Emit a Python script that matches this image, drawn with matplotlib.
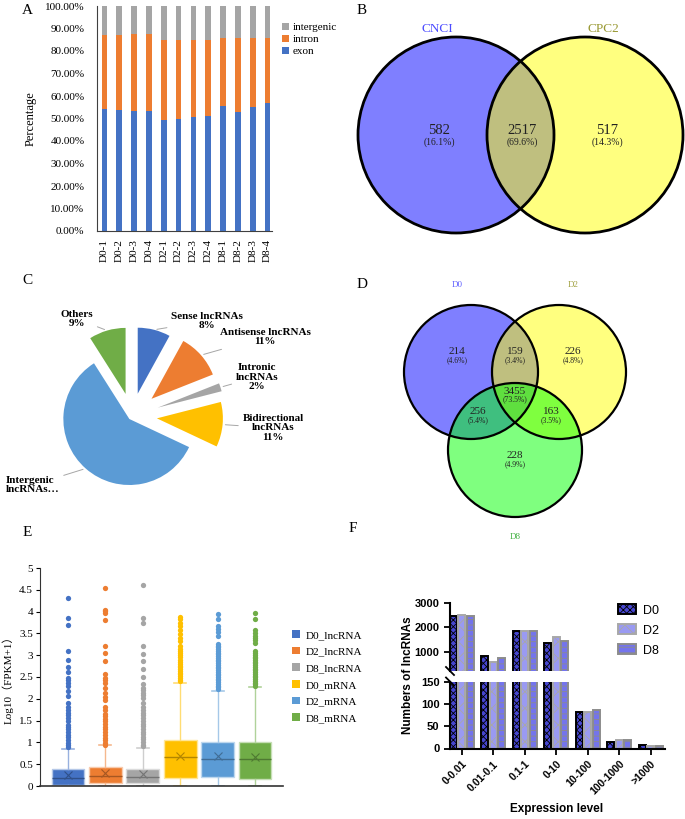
import numpy as np
import matplotlib
matplotlib.use('Agg')
import matplotlib.pyplot as plt
from matplotlib.patches import Circle, Patch
from matplotlib.colors import to_rgb

W, H = 685, 819

# ---------- data ----------
# A: genomic origin of reads per sample (%)
samples = ['D0-1', 'D0-2', 'D0-3', 'D0-4', 'D2-1', 'D2-2', 'D2-3', 'D2-4',
           'D8-1', 'D8-2', 'D8-3', 'D8-4']
exon = [54.1, 53.6, 53.2, 53.5, 49.2, 49.8, 50.5, 51.3, 55.4, 52.7, 55.0, 56.9]
intron = [32.9, 33.4, 34.2, 34.2, 35.5, 34.9, 34.2, 33.4, 30.2, 32.9, 30.8, 28.9]
intergenic = [13.0, 13.0, 12.6, 12.3, 15.3, 15.3, 15.3, 15.3, 14.4, 14.4, 14.2, 14.2]

# B: CNCI vs CPC2
b_sets = ['CNCI', 'CPC2']
b_counts = [582, 2517, 517]
b_pcts = [16.1, 69.6, 14.3]

# C: lncRNA classes
c_names = ['Sense lncRNAs', 'Antisense lncRNAs', 'Intronic\nlncRNAs',
           'Bidirectional\nlncRNAs', 'Intergenic\nlncRNAs', 'Others']
c_pcts = [8, 11, 2, 11, 59, 9]

# D: D0 / D2 / D8 venn (D0, D0&D2, D2, all, D0&D8, D2&D8, D8)
d_sets = ['D0', 'D2', 'D8']
d_counts = [214, 159, 226, 3455, 256, 163, 228]
d_pcts = [4.6, 3.4, 4.8, 73.5, 5.4, 3.5, 4.9]

# E: log10(FPKM+1) box stats
e_groups = ['D0_lncRNA', 'D2_lncRNA', 'D8_lncRNA', 'D0_mRNA', 'D2_mRNA', 'D8_mRNA']
e_q1 = [0.03, 0.08, 0.06, 0.175, 0.21, 0.17]
e_med = [0.175, 0.23, 0.20, 0.67, 0.63, 0.63]
e_q3 = [0.38, 0.43, 0.38, 1.05, 1.01, 1.01]
e_mean = [0.25, 0.30, 0.27, 0.69, 0.69, 0.67]
e_whislo = [0, 0, 0, 0, 0, 0]
e_whishi = [0.86, 0.93, 0.88, 2.36, 2.18, 2.26]
d0_lnc_fliers = [4.31, 3.85, 3.70, 3.10, 2.88, 2.74, 2.61, 2.48, 2.42, 2.36, 2.29, 2.18,
                 2.07, 1.90, 1.81, 1.74, 1.68, 1.62, 1.55, 1.49, 1.40, 1.36, 1.30, 1.23,
                 1.17, 1.13, 1.05, 0.99, 0.93, 0.89]
d2_lnc_fliers = [4.53, 4.04, 4.01, 3.96, 3.80, 3.22, 3.06, 2.87, 2.58, 2.48, 2.42, 2.36,
                 2.24, 2.14, 2.04, 1.97, 1.81, 1.74, 1.66, 1.60, 1.54, 1.48, 1.42, 1.36,
                 1.30, 1.23, 1.17, 1.11, 1.05, 0.99, 0.95]
d8_lnc_fliers = [4.61, 3.85, 3.74, 3.22, 3.03, 2.87, 2.68, 2.50, 2.33, 2.24, 2.20, 2.13,
                 2.08, 2.02, 1.91, 1.81, 1.74, 1.68, 1.62, 1.55, 1.49, 1.43, 1.37, 1.31,
                 1.25, 1.19, 1.13, 1.07, 1.01, 0.95, 0.91]
d0_mrna_fliers = [3.88, 3.82, 3.74, 3.66, 3.58, 3.48, 3.40, 3.33, 3.22, 3.15, 3.10, 3.05,
                  3.00, 2.95, 2.90, 2.85, 2.80, 2.76, 2.72, 2.68, 2.64, 2.60, 2.56, 2.52,
                  2.48, 2.44, 2.40]
d2_mrna_fliers = [3.95, 3.83, 3.66, 3.60, 3.53, 3.45, 3.26, 3.22, 3.18, 3.14, 3.10, 3.06,
                  3.02, 2.98, 2.94, 2.90, 2.86, 2.82, 2.78, 2.74, 2.70, 2.66, 2.62, 2.58,
                  2.54, 2.50, 2.46, 2.42, 2.38, 2.34, 2.30, 2.26, 2.22]
d8_mrna_fliers = [3.96, 3.83, 3.57, 3.51, 3.45, 3.40, 3.34, 3.28, 3.09, 3.05, 3.01, 2.97,
                  2.93, 2.89, 2.85, 2.81, 2.77, 2.73, 2.69, 2.65, 2.61, 2.57, 2.53, 2.49,
                  2.45, 2.41, 2.37, 2.33, 2.30]
e_fliers = [d0_lnc_fliers, d2_lnc_fliers, d8_lnc_fliers,
            d0_mrna_fliers, d2_mrna_fliers, d8_mrna_fliers]

# F: number of lncRNAs per expression level
f_levels = ['0-0.01', '0.01-0.1', '0.1-1', '0-10', '10-100', '100-1000', '>1000']
f_groups = ['D0', 'D2', 'D8']
f_d0 = [2476, 837, 1860, 1367, 82, 15, 7]
f_d2 = [2517, 565, 1850, 1585, 82, 18, 6]
f_d8 = [2449, 755, 1850, 1449, 86, 18, 6]

# ---------- styling ----------
serif = ['Liberation Serif', 'Noto Sans CJK SC']
sans = ['Liberation Sans', 'DejaVu Sans']
plt.rcParams['font.family'] = serif
plt.rcParams['hatch.linewidth'] = 0.6

office = ['#4472C4', '#ED7D31', '#A5A5A5', '#FFC000', '#5B9BD5', '#70AD47']


def box(x0, y0, x1, y1):
    # pixel rectangle (y down) -> figure fraction
    return [x0 / W, 1 - y1 / H, (x1 - x0) / W, (y1 - y0) / H]


def mix(c, other, t):
    a, b = np.array(to_rgb(c)), np.array(to_rgb(other))
    return tuple(a * (1 - t) + b * t)


fig = plt.figure(figsize=(W / 100, H / 100), dpi=100)

# overlay in pixel coordinates for the venn diagrams
ov = fig.add_axes([0, 0, 1, 1])
ov.set_xlim(0, W)
ov.set_ylim(H, 0)
ov.axis('off')

# panel letters
for letter, (lx, ly) in zip('ABCDEF', [(27, 10), (362, 10), (27, 280), (362, 285),
                                        (27, 532), (353, 528)]):
    fig.text(lx / W, 1 - ly / H, letter, fontsize=11, ha='center', va='center')

# ---------- A ----------
axa = fig.add_axes(box(97, 6, 272, 231))
xa = np.arange(len(samples))
axa.bar(xa, exon, width=0.38, color=office[0], label='exon')
axa.bar(xa, intron, width=0.38, bottom=exon, color=office[1], label='intron')
axa.bar(xa, intergenic, width=0.38, bottom=np.add(exon, intron), color=office[2],
        label='intergenic')
axa.set_xlim(-0.5, 11.3)
axa.set_ylim(0, 100)
yt = np.arange(0, 101, 10)
axa.set_yticks(yt, [f'{v:.2f}%' for v in yt])
axa.set_xticks(xa, samples, rotation=90)
axa.tick_params(length=0, labelsize=8, pad=6)
axa.tick_params(axis='y', pad=9)
for s in ['top', 'right']:
    axa.spines[s].set_visible(False)
for s in ['left', 'bottom']:
    axa.spines[s].set_color('#404040')
axa.set_ylabel('Percentage', fontsize=9, labelpad=6)
h, l = axa.get_legend_handles_labels()
axa.legend(h[::-1], l[::-1], loc='upper left', bbox_to_anchor=(282 / W, 1 - 23 / H),
           bbox_transform=fig.transFigure, frameon=False, fontsize=8,
           handlelength=0.6, handleheight=0.6, handletextpad=0.4, labelspacing=0.22,
           borderpad=0, borderaxespad=0)

# ---------- B ----------
venn_cols = ['#0000FF', '#FFFF00', '#00FF00']
b_centers = [(456, 135), (585, 135)]
rb = 98
for (x0, y0), c in zip(b_centers, venn_cols):
    ov.add_patch(Circle((x0, y0), rb, facecolor=c, alpha=0.5, edgecolor='none'))
for (x0, y0) in b_centers:
    ov.add_patch(Circle((x0, y0), rb, fill=False, edgecolor='black', lw=2))
b_label_pos = [(439, 136), (522, 136), (607, 136)]
for (tx, ty), n, p in zip(b_label_pos, b_counts, b_pcts):
    ov.text(tx, ty - 5, str(n), ha='center', va='center', fontsize=10.5, color='#222222')
    ov.text(tx, ty + 6, f'({p:.1f}%)', ha='center', va='center', fontsize=7, color='#222222')
for (x0, y0), name, col in zip(b_centers, b_sets, ['#4B4BFF', '#999933']):
    ov.text(x0 - 19 if name == 'CNCI' else x0 + 18, 29, name, ha='center', va='center',
            fontsize=9.5, color=col)

# ---------- C ----------
axc = fig.add_axes(box(0, 270, 340, 500))
cx, cy, rc = 132, H - 416, 66
c_explode = [23, 26, 27, 25, 4, 23]
wedges, _ = axc.pie(c_pcts, explode=c_explode, colors=office, startangle=90,
                    counterclock=False, center=(cx, cy), radius=rc,
                    wedgeprops=dict(linewidth=0))
axc.set_aspect('auto')
axc.set_xlim(0, 340)
axc.set_ylim(H - 500, H - 270)
c_text_pos = [(207, 321), (265, 337), (257, 377), (273, 428), (6, 485), (77, 319)]
for i, (w, name, pct, (tx, ty)) in enumerate(zip(wedges, c_names, c_pcts, c_text_pos)):
    th = np.deg2rad((w.theta1 + w.theta2) / 2)
    px = w.center[0] + rc * np.cos(th)
    py = w.center[1] + rc * np.sin(th)
    label = name + '…' if name.startswith('Intergenic') else f'{name}\n{pct}%'
    axc.annotate(label, xy=(px, py), xytext=(tx, H - ty),
                 ha='left' if name.startswith('Intergenic') else 'center', va='center',
                 fontsize=8, fontweight='bold', linespacing=1.05,
                 arrowprops=dict(arrowstyle='-', color='#A6A6A6', lw=0.7,
                                 shrinkA=1, shrinkB=2))

# ---------- D ----------
d_centers = [(471, 372), (559, 372), (515, 450)]
rd = 67
for (x0, y0), c in zip(d_centers, venn_cols):
    ov.add_patch(Circle((x0, y0), rd, facecolor=c, alpha=0.5, edgecolor='none'))
for (x0, y0) in d_centers:
    ov.add_patch(Circle((x0, y0), rd, fill=False, edgecolor='black', lw=1.6))
d_label_pos = [(457, 355), (515, 355), (573, 355), (515, 394), (478, 415), (551, 415),
               (515, 459)]
for (tx, ty), n, p in zip(d_label_pos, d_counts, d_pcts):
    ov.text(tx, ty - 3, str(n), ha='center', va='center', fontsize=8, color='#222222')
    ov.text(tx, ty + 5, f'({p:.1f}%)', ha='center', va='center', fontsize=5.5,
            color='#222222')
for name, col, (tx, ty) in zip(d_sets, ['#6060FF', '#A0A040', '#40B040'],
                               [(457, 285), (573, 285), (515, 537)]):
    ov.text(tx, ty, name, ha='center', va='center', fontsize=6.5, color=col)

# ---------- E ----------
axe = fig.add_axes(box(40, 568, 283, 786))
stats = []
for i, g in enumerate(e_groups):
    stats.append(dict(label=g, q1=e_q1[i], med=e_med[i], q3=e_q3[i], mean=e_mean[i],
                      whislo=e_whislo[i], whishi=e_whishi[i], fliers=e_fliers[i]))
pos = np.arange(1, len(e_groups) + 1)
bp = axe.bxp(stats, positions=pos, widths=0.88, patch_artist=True, showmeans=True,
             capwidths=0.32)
for i, c in enumerate(office):
    light = mix(c, 'white', 0.45)
    dark = mix(c, 'black', 0.3)
    bp['boxes'][i].set(facecolor=c, edgecolor=mix(c, 'white', 0.6), linewidth=1)
    bp['medians'][i].set(color=dark, linewidth=1)
    bp['means'][i].set(marker='x', markeredgecolor=dark, markerfacecolor=dark,
                       markersize=6, markeredgewidth=0.8)
    for k in (2 * i, 2 * i + 1):
        bp['whiskers'][k].set(color=light, linewidth=1)
        bp['caps'][k].set(color=light, linewidth=1.2)
    bp['fliers'][i].set(marker='o', markerfacecolor=c, markeredgecolor='none',
                        markersize=3.8)
axe.set_xlim(0.25, 6.75)
axe.set_ylim(0, 5)
axe.set_yticks(np.arange(0, 5.01, 0.5), ['0', '0.5', '1', '1.5', '2', '2.5', '3', '3.5',
                                          '4', '4.5', '5'])
axe.set_xticks([])
axe.tick_params(axis='y', labelsize=8, length=3, width=0.8, pad=2)
for s in ['top', 'right']:
    axe.spines[s].set_visible(False)
axe.spines['left'].set_color('#333333')
axe.spines['bottom'].set_color('#333333')
axe.spines['bottom'].set_linewidth(1.2)
axe.set_ylabel('Log10（FPKM+1）', fontsize=8, labelpad=4)
fig.legend(handles=[Patch(facecolor=c) for c in office], labels=e_groups,
           loc='upper left', bbox_to_anchor=(292 / W, 1 - 630 / H), frameon=False,
           fontsize=8, handlelength=0.7, handleheight=0.7, handletextpad=0.5,
           labelspacing=0.62, borderpad=0, borderaxespad=0)

# ---------- F ----------
axf_top = fig.add_axes(box(450, 603, 665, 671))
axf_bot = fig.add_axes(box(450, 681.5, 665, 748.5))
xf = np.arange(len(f_levels))
f_styles = [dict(facecolor='#4646D0', edgecolor='black', hatch='xxxxx'),
            dict(facecolor='#9A9AF2', edgecolor='#A8A8A8', hatch='xx'),
            dict(facecolor='#7474EC', edgecolor='#8C8C8C', hatch='---')]
for ax in (axf_top, axf_bot):
    for k, (vals, st) in enumerate(zip([f_d0, f_d2, f_d8], f_styles)):
        ax.bar(xf + (k - 1) * 0.27, vals, width=0.22, linewidth=1.4,
               label=f_groups[k], **st)
    ax.set_xlim(-0.37, 6.45)
    for s in ['top', 'right']:
        ax.spines[s].set_visible(False)
    for s in ['left', 'bottom']:
        ax.spines[s].set_linewidth(1.5)
    ax.tick_params(length=4, width=1.3)
axf_top.set_ylim(200, 3000)
axf_bot.set_ylim(0, 150)
axf_top.spines['bottom'].set_visible(False)
axf_top.set_xticks([])
axf_top.set_yticks([1000, 2000, 3000], ['1000', '2000', '3000'], fontweight='bold',
                   family=sans, fontsize=8)
axf_bot.set_yticks([0, 50, 100, 150], ['0', '50', '100', '150'], fontweight='bold',
                   family=sans, fontsize=8)
axf_bot.set_xticks(xf, f_levels, rotation=45, ha='right', rotation_mode='anchor',
                   fontweight='bold', family=sans, fontsize=7.5)
# axis break marks
for ax, yb in ((axf_top, 0), (axf_bot, 1)):
    dy = 4 / (68 if ax is axf_top else 67)
    dx = 4 / 215
    ax.plot([-dx, dx], [yb + dy, yb - dy], transform=ax.transAxes, color='black',
            lw=1.3, clip_on=False)
axf_top.legend(loc='upper left', bbox_to_anchor=(618 / W, 1 - 604 / H),
               bbox_transform=fig.transFigure, frameon=False,
               prop=dict(family=sans, size=9), handlelength=1.4, handleheight=0.9,
               labelspacing=0.6, handletextpad=0.6, borderpad=0, borderaxespad=0)
fig.text(408 / W, 1 - 675 / H, 'Numbers of lncRNAs', rotation=90, ha='center',
         va='center', fontsize=8.5, fontweight='bold', family=sans)
fig.text(557 / W, 1 - 809 / H, 'Expression level', ha='center', va='center',
         fontsize=8.5, fontweight='bold', family=sans)

fig.savefig('out.png', dpi=100, facecolor='white')
